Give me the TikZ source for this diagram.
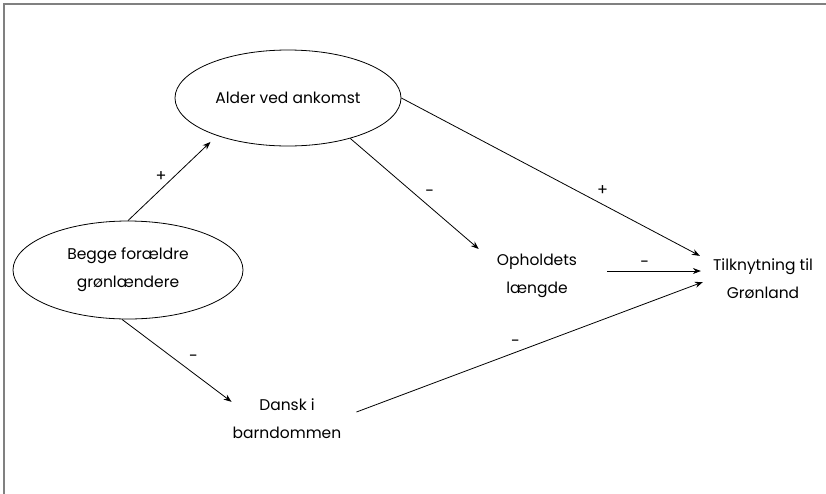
\documentclass[tikz,border=0pt]{standalone}
\usepackage{fontspec}
\setmainfont{Poppins}
\usetikzlibrary{shapes.geometric,arrows.meta}
\begin{document}
\begin{tikzpicture}[x=1pt,y=-1pt,
  every node/.style={font=\fontsize{15.5}{28}\selectfont},
  oval/.style={draw,ellipse,align=center,inner sep=0pt,line width=0.8pt},
  txt/.style={align=center,inner sep=0pt},
  arr/.style={draw,line width=0.8pt,-{Stealth[length=8pt,width=6pt]}},
  lbl/.style={inner sep=0pt,font=\fontsize{16}{18}\selectfont}]
\useasboundingbox (0,0) rectangle (826,493);
\draw[line width=1.5pt,color=black!50] (4,500) -- (4,4) -- (830,4);
\node[oval,minimum width=226pt,minimum height=96pt] (alder) at (288,98) {Alder ved ankomst};
\node[oval,minimum width=230pt,minimum height=98pt] (begge) at (128,270) {Begge forældre\\grønlændere};
\node[txt] (dansk) at (287,419) {Dansk i\\barndommen};
\node[txt] (ophold) at (537,276) {Opholdets\\længde};
\node[txt] (tilk) at (763,279) {Tilknytning til\\Grønland};
\draw[arr,shorten >=9pt] (begge.90) -- node[lbl,pos=0.44,xshift=-6pt,yshift=7pt] {+} (alder.208);
\draw[arr] (alder.-33) -- node[lbl,pos=0.565,xshift=7pt,yshift=8pt] {-} ([xshift=-18pt,yshift=5pt]ophold.north west);
\draw[arr] (alder.east) -- node[lbl,pos=0.654,xshift=6pt,yshift=11pt] {+} ([xshift=-13pt,yshift=3pt]tilk.north west);
\draw[arr] ([xshift=30pt,yshift=5pt]ophold.east) -- node[lbl,pos=0.4,yshift=7pt] {-} ([xshift=-12pt,yshift=8pt]tilk.west);
\draw[arr] ([xshift=15pt,yshift=7pt]dansk.east) -- node[lbl,pos=0.468,xshift=-3pt,yshift=8pt] {-} ([xshift=-10pt,yshift=-3pt]tilk.west);
\draw[arr] (begge.-97) -- node[lbl,pos=0.59,xshift=7pt,yshift=10pt] {-} ([xshift=-1pt,yshift=-3pt]dansk.north west);
\end{tikzpicture}
\end{document}
